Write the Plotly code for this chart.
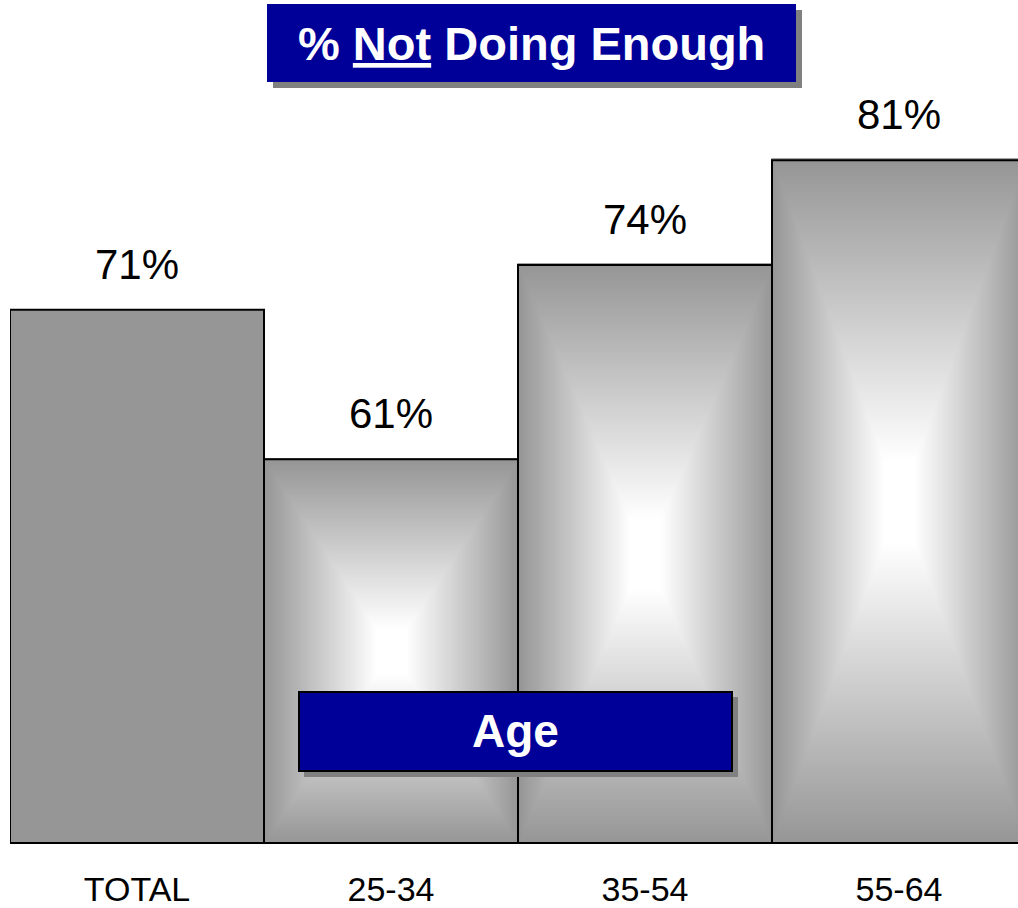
import numpy as np
import plotly.graph_objects as go

# ---- data ----
categories = ["TOTAL", "25-34", "35-54", "55-64"]
values = [71, 61, 74, 81]
value_labels = ["71%", "61%", "74%", "81%"]
shaded = [False, True, True, True]   # TOTAL is flat grey, age bars have centre shading

TITLE = "% <u>Not</u> Doing Enough"
BOX_LABEL = "Age"

# ---- layout constants ----
W, H = 1018, 908
ML, MB = 10, 66
Y_MIN = 35.4          # value axis does not start at zero in the original
PX_PER_PCT = 14.95
PX_PER_BAR = 254
y_max = Y_MIN + (H - MB) / PX_PER_PCT
x_max = -0.5 + (W - ML) / PX_PER_BAR

GRAY = "#969696"
NAVY = "#000099"
SHADOW = "#808080"
FONT = "Liberation Sans, Arial, sans-serif"


def px(x):
    return (x - ML) / (W - ML)


def py(y):
    return (H - MB - y) / (H - MB)


def rect_gradient(i, top, n=161):
    # rectangular "from centre" shading: white in the middle, grey at the edges
    xs = np.linspace(i - 0.5, i + 0.5, n)
    ys = np.linspace(Y_MIN, top, n)
    d = np.abs(np.linspace(-1, 1, n))
    z = np.maximum(d[None, :], d[:, None])
    return go.Heatmap(
        x=xs, y=ys, z=z, zmin=0, zmax=1, zsmooth="best",
        colorscale=[[0, "white"], [0.12, "white"], [1, GRAY]],
        showscale=False, hoverinfo="skip",
    )


fig = go.Figure()

for i, (v, s) in enumerate(zip(values, shaded)):
    if s:
        fig.add_trace(rect_gradient(i, v))

fig.add_trace(go.Bar(
    x=list(range(len(categories))),
    y=values,
    width=1,
    marker=dict(
        color=["rgba(0,0,0,0)" if s else GRAY for s in shaded],
        line=dict(color="black", width=2),
    ),
    hoverinfo="skip",
))

for i, (v, t) in enumerate(zip(values, value_labels)):
    fig.add_annotation(
        x=i, y=v, text=t, showarrow=False, yanchor="bottom", yshift=20,
        font=dict(family=FONT, size=42, color="black"),
    )

# title box with drop shadow
fig.add_shape(type="rect", xref="paper", yref="paper",
              x0=px(273), x1=px(802), y0=py(10), y1=py(88),
              fillcolor=SHADOW, line=dict(width=0))
fig.add_shape(type="rect", xref="paper", yref="paper",
              x0=px(267), x1=px(796), y0=py(4), y1=py(82),
              fillcolor=NAVY, line=dict(width=0))
fig.add_annotation(xref="paper", yref="paper", x=px(531.5), y=py(44),
                   text=f"<b>{TITLE}</b>", showarrow=False,
                   xanchor="center", yanchor="middle",
                   font=dict(family=FONT, size=47, color="white"))

# "Age" box
fig.add_shape(type="rect", xref="paper", yref="paper",
              x0=px(304), x1=px(738), y0=py(697), y1=py(777),
              fillcolor=SHADOW, line=dict(width=0))
fig.add_shape(type="rect", xref="paper", yref="paper",
              x0=px(299), x1=px(732), y0=py(692), y1=py(771),
              fillcolor=NAVY, line=dict(color="black", width=2))
fig.add_annotation(xref="paper", yref="paper", x=px(515.5), y=py(731),
                   text=f"<b>{BOX_LABEL}</b>", showarrow=False,
                   xanchor="center", yanchor="middle",
                   font=dict(family=FONT, size=46, color="white"))

fig.update_layout(
    width=W, height=H,
    margin=dict(l=ML, r=0, t=0, b=MB),
    paper_bgcolor="white", plot_bgcolor="white",
    showlegend=False,
    xaxis=dict(
        range=[-0.5, x_max],
        tickvals=list(range(len(categories))), ticktext=categories,
        showgrid=False, zeroline=False, ticks="",
        showline=True, linecolor="black", linewidth=2,
        tickfont=dict(family=FONT, size=34, color="black"),
        ticklabelstandoff=16,
    ),
    yaxis=dict(range=[Y_MIN, y_max], visible=False),
)

# drop the browser's default 8px body margin so the figure sits at the page corner
fig.write_html("out.html", config={"displayModeBar": False},
               post_script="document.body.style.margin='0';")
